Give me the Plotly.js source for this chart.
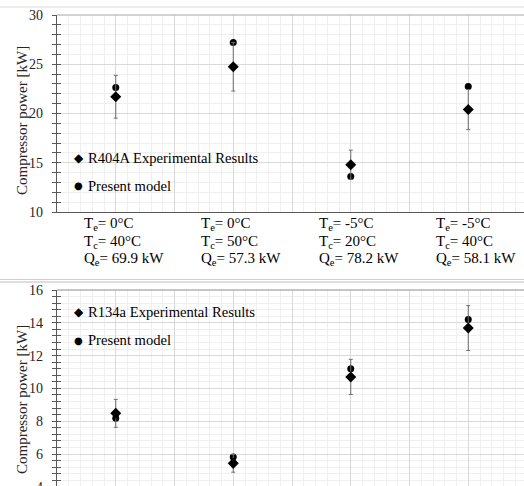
<!DOCTYPE html>
<html>
<head>
<meta charset="utf-8">
<script src="https://cdn.plot.ly/plotly-3.0.1.min.js"></script>
<style>
html,body{margin:0;padding:0;overflow:hidden;background:#fff;}
#chart{width:527px;height:560px;}
</style>
</head>
<body>
<div id="chart"></div>
<script>
// ---- data ----
const categories = [0, 1, 2, 3];
const teLabels = ['0', '0', '-5', '-5'];
const tcLabels = ['40', '50', '20', '40'];
const qeLabels = ['69.9', '57.3', '78.2', '58.1'];

const yTitle = 'Compressor power [kW]';

const r404aName = 'R404A Experimental Results';
const r404aExp = [21.7, 24.75, 14.8, 20.4];
const r404aExpErr = [2.17, 2.47, 1.48, 2.04];
const r404aModelName = 'Present model';
const r404aModel = [22.65, 27.2, 13.6, 22.75];

const r134aName = 'R134a Experimental Results';
const r134aExp = [8.48, 5.43, 10.7, 13.68];
const r134aExpErr = [0.85, 0.54, 1.07, 1.37];
const r134aModelName = 'Present model';
const r134aModel = [8.18, 5.82, 11.2, 14.2];

// ---- layout helpers ----
const W = 527, H = 560, L = 57;
const PW = W - L;
const py = p => 1 - p / H;
const pxp = x => (x - L) / PW;

const serif = 'Liberation Serif, Times New Roman, serif';
const gridMajor = '#d9d9d9';
const gridMinor = '#efefef';
const axisDark = '#595959';

function diamondTrace(y, err, xa, ya, name) {
  return {
    x: categories, y: y, xaxis: xa, yaxis: ya, name: name, type: 'scatter', mode: 'markers',
    marker: {symbol: 'diamond', size: 8.5, color: '#000'},
    error_y: {type: 'data', array: err, visible: true, color: '#6e6e6e', thickness: 1, width: 2},
    cliponaxis: false, showlegend: false
  };
}
function circleTrace(y, xa, ya, name) {
  return {
    x: categories, y: y, xaxis: xa, yaxis: ya, name: name, type: 'scatter', mode: 'markers',
    marker: {symbol: 'circle', size: 7, color: '#000'},
    cliponaxis: false, showlegend: false
  };
}

const data = [
  circleTrace(r404aModel, 'x', 'y', r404aModelName),
  diamondTrace(r404aExp, r404aExpErr, 'x', 'y', r404aName),
  circleTrace(r134aModel, 'x2', 'y2', r134aModelName),
  diamondTrace(r134aExp, r134aExpErr, 'x2', 'y2', r134aName)
];

function xAxis(anchor) {
  return {
    anchor: anchor, range: [-0.5, 3.5], tick0: 0, dtick: 0.5,
    showgrid: true, gridcolor: gridMajor, gridwidth: 1,
    minor: {dtick: 0.1, showgrid: true, gridcolor: gridMinor, gridwidth: 1},
    showticklabels: false, ticks: '', zeroline: false,
    showline: true, linecolor: axisDark, linewidth: 1.3, fixedrange: true
  };
}
function yAxis(anchor, domain, range, dtick, mdtick) {
  return {
    anchor: anchor, domain: domain, range: range, tick0: 0, dtick: dtick,
    showgrid: true, gridcolor: gridMajor, gridwidth: 1,
    minor: {dtick: mdtick, tick0: 0, showgrid: true, gridcolor: gridMinor, gridwidth: 1,
            ticks: 'outside', ticklen: 4, tickcolor: axisDark, tickwidth: 1},
    ticks: 'outside', ticklen: 4, tickcolor: axisDark, tickwidth: 1,
    ticklabelstandoff: 6,
    tickfont: {family: serif, size: 14, color: '#262626'},
    showline: true, linecolor: axisDark, linewidth: 1.3, zeroline: false,
    fixedrange: true
  };
}
function yOverlay(over, range, dtick, mdtick) {
  return {
    overlaying: over, anchor: over === 'y' ? 'x' : 'x2', range: range, tick0: 0, dtick: dtick,
    showgrid: false, showticklabels: false, zeroline: false, showline: false,
    ticks: 'inside', ticklen: 4, tickcolor: axisDark, tickwidth: 1,
    minor: {dtick: mdtick, tick0: 0, showgrid: false, ticks: 'inside', ticklen: 4, tickcolor: axisDark, tickwidth: 1},
    fixedrange: true
  };
}

const topDomain = [py(212), py(15)];
const botDomain = [py(510), py(290)];
const topRange = [10, 30];
const botRange = [16 - (510 - 290) / 16.4, 16];

data.push({x: [], y: [], xaxis: 'x', yaxis: 'y3', type: 'scatter', showlegend: false});
data.push({x: [], y: [], xaxis: 'x2', yaxis: 'y4', type: 'scatter', showlegend: false});

const annotations = [];
// category labels (top panel)
const rowsY = [224, 241.7, 259.3];
categories.forEach((c, i) => {
  const lines = [
    'T<sub>e</sub>= ' + teLabels[i] + '°C',
    'T<sub>c</sub>= ' + tcLabels[i] + '°C',
    'Q<sub>e</sub>= ' + qeLabels[i] + ' kW'
  ];
  lines.forEach((t, k) => {
    annotations.push({
      xref: 'x', yref: 'paper', x: c, y: py(rowsY[k]), xanchor: 'left', yanchor: 'middle',
      xshift: -34, showarrow: false, text: t, align: 'left',
      font: {family: serif, size: 15, color: '#000'}
    });
  });
});

// y-axis titles
[121, 400].forEach(yc => {
  annotations.push({xref: 'paper', yref: 'paper', x: pxp(22), y: py(yc), xanchor: 'center', yanchor: 'middle',
    textangle: -90, showarrow: false, text: yTitle, font: {family: serif, size: 15, color: '#262626'}});
});

// legends (drawn as text)
function legendItems(symbolChar, label, yPix, symSize) {
  annotations.push({xref: 'paper', yref: 'paper', x: pxp(78.5), y: py(yPix), xanchor: 'center', yanchor: 'middle',
    showarrow: false, text: symbolChar, font: {family: 'DejaVu Sans', size: symSize, color: '#000'}});
  annotations.push({xref: 'paper', yref: 'paper', x: pxp(86), y: py(yPix), xanchor: 'left', yanchor: 'middle',
    showarrow: false, text: label, font: {family: serif, size: 14.6, color: '#000'}});
}
legendItems('◆', r404aName, 158, 12);
legendItems('●', r404aModelName, 186, 10);
legendItems('◆', r134aName, 311.5, 12);
legendItems('●', r134aModelName, 340, 10);

const shapes = [
  // legend backgrounds
  {type: 'rect', xref: 'paper', yref: 'paper', x0: pxp(58), x1: pxp(263), y0: py(203), y1: py(143),
   fillcolor: '#fff', line: {width: 0}, layer: 'between'},
  {type: 'rect', xref: 'paper', yref: 'paper', x0: pxp(58), x1: pxp(262), y0: py(354), y1: py(291),
   fillcolor: '#fff', line: {width: 0}, layer: 'between'},
  // top borders of plot areas
  {type: 'line', xref: 'paper', yref: 'paper', x0: 0, x1: 1, y0: py(15), y1: py(15), line: {color: '#a6a6a6', width: 1.2}, layer: 'above'},
  {type: 'line', xref: 'paper', yref: 'paper', x0: 0, x1: 1, y0: py(290), y1: py(290), line: {color: '#8c8c8c', width: 1.2}, layer: 'above'},
  // chart-area separators
  {type: 'line', xref: 'paper', yref: 'paper', x0: pxp(0), x1: 1, y0: py(7), y1: py(7), line: {color: '#d9d9d9', width: 1}, layer: 'above'},
  {type: 'line', xref: 'paper', yref: 'paper', x0: pxp(0), x1: 1, y0: py(279.5), y1: py(279.5), line: {color: '#d0d0d0', width: 1}, layer: 'above'},
  {type: 'line', xref: 'paper', yref: 'paper', x0: pxp(0), x1: 1, y0: py(282), y1: py(282), line: {color: '#bdbdbd', width: 1}, layer: 'above'}
];

const layout = {
  width: W, height: H,
  margin: {l: L, r: 0, t: 0, b: 0, pad: 0},
  paper_bgcolor: '#fff', plot_bgcolor: '#fff',
  showlegend: false,
  xaxis: xAxis('y'),
  xaxis2: xAxis('y2'),
  yaxis: yAxis('x', topDomain, topRange, 5, 1),
  yaxis2: yAxis('x2', botDomain, botRange, 2, 0.4),
  yaxis3: yOverlay('y', topRange, 5, 1),
  yaxis4: yOverlay('y2', botRange, 2, 0.4),
  annotations: annotations,
  shapes: shapes,
  font: {family: serif}
};
layout.yaxis3.domain = topDomain;
layout.yaxis4.domain = botDomain;

Plotly.newPlot('chart', data, layout, {staticPlot: true, displayModeBar: false});
</script>
</body>
</html>
